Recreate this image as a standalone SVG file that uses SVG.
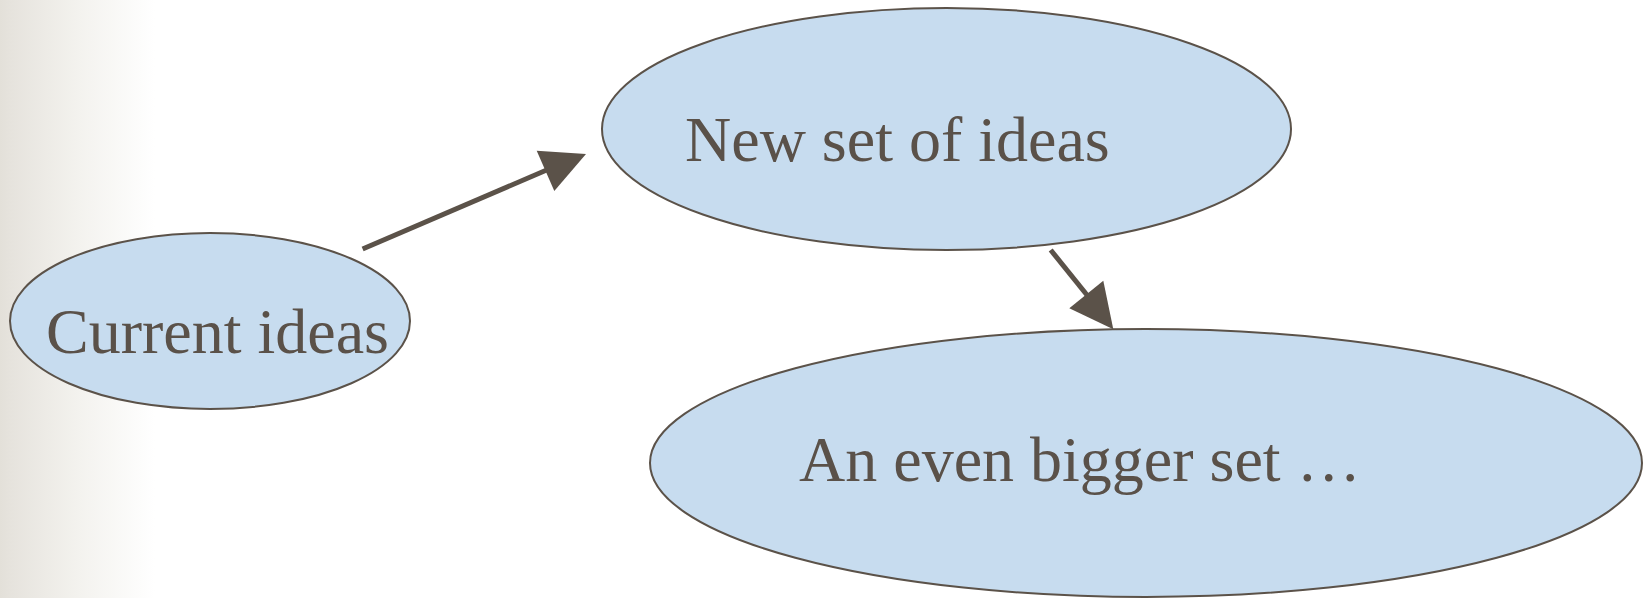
<svg xmlns="http://www.w3.org/2000/svg" width="1648" height="598" viewBox="0 0 1648 598">
  <defs>
    <linearGradient id="edgeShade" x1="0" y1="0" x2="1" y2="0">
      <stop offset="0" stop-color="#e3e0d9"/>
      <stop offset="0.07" stop-color="#e6e3dd"/>
      <stop offset="0.5" stop-color="#f3f2ee"/>
      <stop offset="1" stop-color="#ffffff"/>
    </linearGradient>
    <style>
      .node { fill: #c7dcef; stroke: #5b5249; stroke-width: 2; }
      .label { font-family: "Liberation Serif", "Times New Roman", serif; font-size: 64px; fill: #5a5149; }
      .edge { stroke: #5b5249; stroke-width: 5; fill: none; }
      .head { fill: #5b5249; }
    </style>
  </defs>

  <!-- page background with shaded left margin -->
  <rect x="0" y="0" width="1648" height="598" fill="#ffffff"/>
  <rect x="0" y="0" width="155" height="598" fill="url(#edgeShade)"/>

  <!-- connectors -->
  <g id="connectors">
    <line class="edge" x1="362.6" y1="249" x2="556" y2="166"/>
    <polygon class="head" points="536.7,150.7 586,154 554.3,191"/>
    <line class="edge" x1="1050.7" y1="250" x2="1091" y2="300"/>
    <polygon class="head" points="1103.3,280.7 1069.3,308.3 1113.3,329.3"/>
  </g>

  <g id="current-ideas">
    <ellipse class="node" cx="210" cy="321" rx="200" ry="88"/>
    <text class="label" x="46" y="353">Current ideas</text>
  </g>

  <g id="new-set">
    <ellipse class="node" cx="946.5" cy="129" rx="344.5" ry="121"/>
    <text class="label" x="685" y="161">New set of ideas</text>
  </g>

  <g id="bigger-set">
    <ellipse class="node" cx="1146" cy="463" rx="496" ry="134"/>
    <text class="label" x="799" y="481">An even bigger set …</text>
  </g>
</svg>
